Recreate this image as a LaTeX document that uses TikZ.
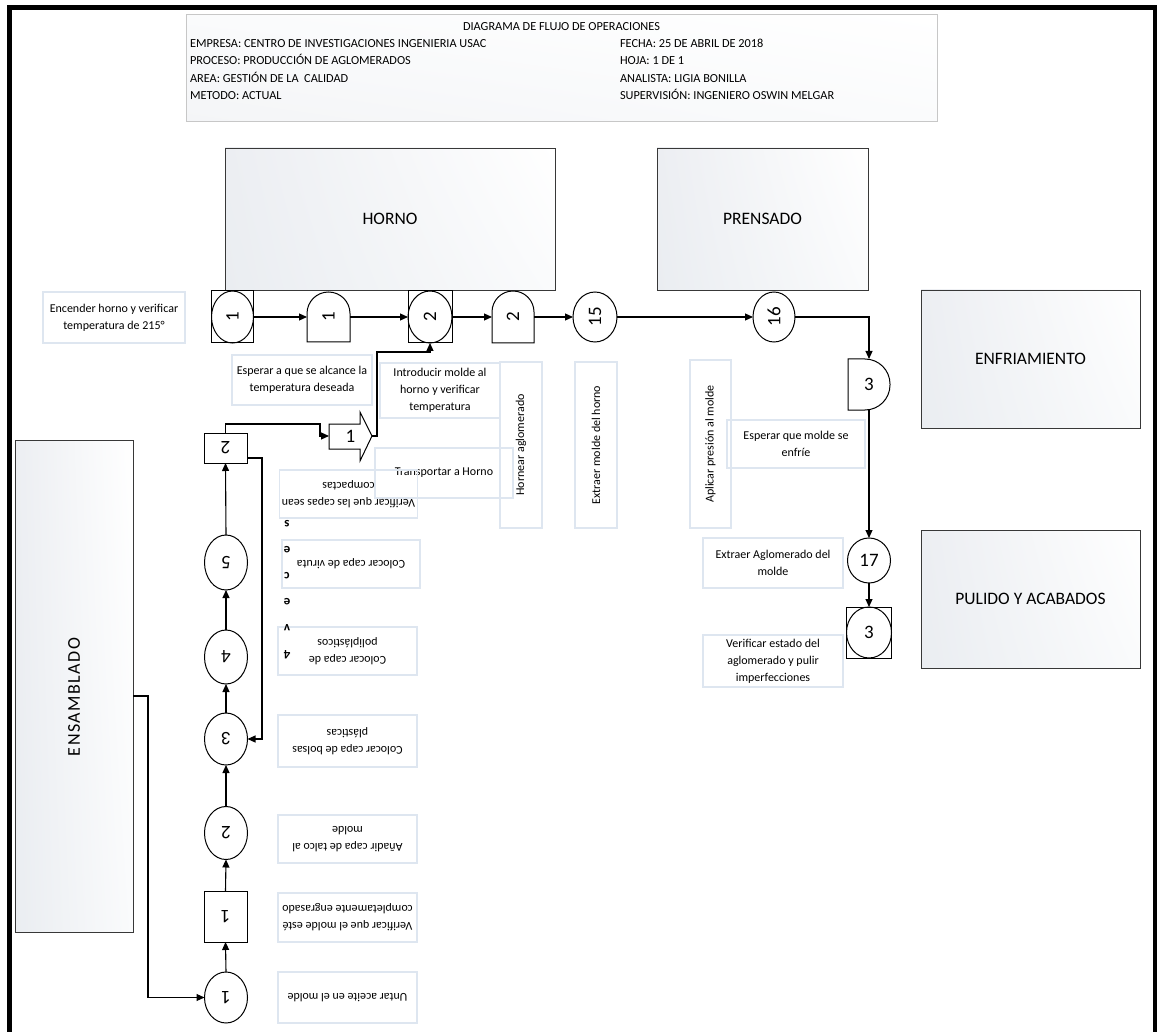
\documentclass[tikz,border=0pt]{standalone}
\usepackage{fontspec}
\usepackage{graphicx}
\setmainfont{Carlito}
\newfontfamily\ensfont[LetterSpace=8]{Carlito}
\usetikzlibrary{shapes.geometric,arrows.meta,calc,shadings}
\definecolor{tbc}{RGB}{222,230,240}
\definecolor{shA}{RGB}{236,238,242}
\definecolor{shB}{RGB}{234,237,241}
\definecolor{shC}{RGB}{250,251,252}
\definecolor{shD}{RGB}{244,245,247}
\newcommand\fsT{\fontsize{12}{17}\selectfont}
\newcommand\fsH{\fontsize{12.3}{17}\selectfont}
\newcommand\fsN{\fontsize{19}{19}\selectfont}
\newcommand\fsP{\fontsize{17.5}{17.5}\selectfont}
\newcommand\fsB{\fontsize{13}{26}\selectfont\bfseries}
\tikzset{
  every node/.style={inner sep=0pt, outer sep=0pt},
  ln/.style={line width=1.1pt, -{Triangle[length=8pt,width=7pt]}},
  ell/.style={ellipse, draw, line width=1pt, font=\fsN},
  sqr/.style={rectangle, draw, line width=1pt, font=\fsN},
  dly/.style={rectangle, draw=none, font=\fsN},
  dshape/.style={line width=1pt},
  proc/.style={rectangle, draw=black!78, line width=0.9pt, upper left=shA, lower left=shB, lower right=shC, upper right=white, font=\fsP},
  hdrbox/.style={rectangle, draw=black!22, line width=1pt, upper left=shC, lower left=shD, lower right=shC, upper right=white},
  hdt/.style={font=\fsH},
  tbox/.style={rectangle, draw=tbc, line width=1.3pt, align=center, font=\fsT},
}
\begin{document}
\begin{tikzpicture}[x=1pt,y=-1pt]
\useasboundingbox (0,0) rectangle (1157,1032);
\draw[line width=5pt] (9.5,1045) -- (9.5,7.5) -- (1155.5,7.5) -- (1155.5,1045);

% header
\node[hdrbox, minimum width=751pt, minimum height=107pt] (hdr) at (561.5,68.5) {};
\node[hdt, anchor=base] (h0) at (561.5,31) {DIAGRAMA DE FLUJO DE OPERACIONES};
\node[hdt, anchor=base west] (h1) at (190,48) {EMPRESA: CENTRO DE INVESTIGACIONES INGENIERIA USAC};
\node[hdt, anchor=base west] (h2) at (190,65) {PROCESO: PRODUCCIÓN DE AGLOMERADOS};
\node[hdt, anchor=base west] (h3) at (190,83) {AREA: GESTIÓN DE LA\ \ CALIDAD};
\node[hdt, anchor=base west] (h4) at (190,100) {METODO: ACTUAL};
\node[hdt, anchor=base west] (h5) at (620,48) {FECHA: 25 DE ABRIL DE 2018};
\node[hdt, anchor=base west] (h6) at (620,65) {HOJA: 1 DE 1};
\node[hdt, anchor=base west] (h7) at (620,83) {ANALISTA: LIGIA BONILLA};
\node[hdt, anchor=base west] (h8) at (620,100) {SUPERVISIÓN: INGENIERO OSWIN MELGAR};

% process boxes
\node[proc, minimum width=330pt, minimum height=142pt] (horno) at (390,219) {HORNO};
\node[proc, minimum width=211pt, minimum height=142pt] (prens) at (762.5,219) {PRENSADO};
\node[proc, minimum width=219pt, minimum height=138pt] (enfr) at (1030.5,359) {ENFRIAMIENTO};
\node[proc, minimum width=219pt, minimum height=138pt] (pul) at (1030.5,599) {PULIDO Y ACABADOS};
\node[proc, minimum width=118pt, minimum height=492pt] (ens) at (74,686) {};
\node[font=\fontsize{18}{18}\ensfont] (ensl) at (74,697) {\rotatebox{90}{ENSAMBLADO}};

% text boxes
\node[tbox, minimum width=142pt, minimum height=51pt] (t1) at (114,317.5) {Encender horno y verificar\\temperatura de 215°};
\node[tbox, minimum width=140pt, minimum height=50pt] (t2) at (302,380) {Esperar a que se alcance la\\temperatura deseada};
\node[tbox, minimum width=120pt, minimum height=55pt] (t3) at (440,390.5) {Introducir molde al\\horno y verificar\\temperatura};
\node[tbox, minimum width=138pt, minimum height=50pt] (t4) at (444,473) {Transportar a Horno};
\node[tbox, minimum width=42pt, minimum height=166pt] (t5) at (521,445) {\rotatebox{90}{Hornear aglomerado}};
\node[tbox, minimum width=42pt, minimum height=166pt] (t6) at (596,445) {\rotatebox{90}{Extraer molde del horno}};
\node[tbox, minimum width=41pt, minimum height=168pt] (t7) at (710.5,444) {\rotatebox{90}{Aplicar presión al molde}};
\node[tbox, minimum width=138pt, minimum height=48pt] (t8) at (796,444) {Esperar que molde se\\enfríe};
\node[tbox, minimum width=140pt, minimum height=50pt] (t9) at (773,563) {Extraer Aglomerado del\\molde};
\node[tbox, minimum width=140pt, minimum height=52pt] (t10) at (773,661) {Verificar estado del\\aglomerado y pulir\\imperfecciones};
\node[tbox, rotate=180, minimum width=138pt, minimum height=48pt] (t11) at (348.5,494) {Verificar que las capas sean\\compactas};
\node[tbox, rotate=180, minimum width=138pt, minimum height=48pt] (t13) at (351,564) {Colocar capa de viruta};
\node[tbox, rotate=180, minimum width=139pt, minimum height=48pt] (t14) at (347.5,651) {Colocar capa de\\poliplásticos};
\node[tbox, rotate=180, minimum width=139pt, minimum height=52pt] (t15) at (347.5,741) {Colocar capa de bolsas\\plásticas};
\node[tbox, rotate=180, minimum width=139pt, minimum height=48pt] (t16) at (347.5,839) {Añadir capa de talco al\\molde};
\node[tbox, rotate=180, minimum width=139pt, minimum height=49pt] (t17) at (347.5,917.5) {Verificar que el molde esté\\completamente engrasado};
\node[tbox, rotate=180, minimum width=139pt, minimum height=51pt] (t18) at (347.5,997.5) {Untar aceite en el molde};
\node[rotate=180, align=center, font=\fsB] (t12) at (287,590) {4\\v\\e\\c\\e\\s};

% top row symbols
\node[sqr, minimum width=42pt, minimum height=52pt] (op1) at (232.5,317) {};
\node[ell, minimum width=42pt, minimum height=52pt] (op1e) at (232.5,317) {\rotatebox{90}{1}};
\node[dly, minimum width=43pt, minimum height=50pt] (d1) at (328.5,317) {\rotatebox{90}{1}};
\draw[dshape] (d1.south west) -- (d1.south east) [rounded corners=21.5pt] -- (d1.north east) -- (d1.north west) [sharp corners] -- cycle;
\node[sqr, minimum width=44pt, minimum height=52pt] (op2) at (430,317) {};
\node[ell, minimum width=44pt, minimum height=52pt] (op2e) at (430,317) {\rotatebox{90}{2}};
\node[dly, minimum width=42pt, minimum height=52pt] (d2) at (513,317) {\rotatebox{90}{2}};
\draw[dshape] (d2.south west) -- (d2.south east) [rounded corners=21pt] -- (d2.north east) -- (d2.north west) [sharp corners] -- cycle;
\node[ell, minimum width=44pt, minimum height=50pt] (c15) at (595,317) {\rotatebox{90}{15}};
\node[ell, minimum width=42pt, minimum height=50pt] (c16) at (774,317) {\rotatebox{90}{16}};
\node[dly, minimum width=42pt, minimum height=51pt] (d3) at (869,384.5) {3};
\draw[dshape] (d3.south west) -- (d3.north west) [rounded corners=25pt] -- (d3.north east) -- (d3.south east) [sharp corners] -- cycle;
\node[ell, minimum width=43pt, minimum height=45pt] (c17) at (869,560.5) {17};
\node[sqr, minimum width=45pt, minimum height=51pt] (op3) at (869,632.5) {};
\node[ell, minimum width=45pt, minimum height=51pt] (op3e) at (869,632.5) {3};

% left column symbols
\node[sqr, minimum width=43pt, minimum height=30pt] (sq2) at (225.5,448) {\rotatebox{180}{2}};
\node[ell, minimum width=43pt, minimum height=55pt] (c5) at (226,562.5) {\rotatebox{180}{5}};
\node[ell, minimum width=43pt, minimum height=54pt] (c4) at (226,657) {\rotatebox{180}{4}};
\node[ell, minimum width=43pt, minimum height=52pt] (c3) at (226,739) {\rotatebox{180}{3}};
\node[ell, minimum width=43pt, minimum height=53pt] (c2) at (226,833) {\rotatebox{180}{2}};
\node[sqr, minimum width=43pt, minimum height=51pt] (sq1) at (225.5,916.5) {\rotatebox{180}{1}};
\node[ell, minimum width=43pt, minimum height=51pt] (c1) at (226,997.5) {\rotatebox{180}{1}};

% transport
\node[dly, minimum width=43pt, minimum height=50pt] (tr) at (350.5,436) {1};
\draw[dshape] ($(tr.west)+(0,-12)$) -- ($(tr.west)+(31,-12)$) -- ($(tr.west)+(31,-24)$) -- (tr.east) -- ($(tr.west)+(31,25)$) -- ($(tr.west)+(31,13)$) -- ($(tr.west)+(0,13)$) -- cycle;

% connectors
\draw[ln] (op1.east) -- (d1.west);
\draw[ln] (d1.east) -- (op2.west);
\draw[ln] (op2.east) -- (d2.west);
\draw[ln] (d2.east) -- (c15.west);
\draw[ln] (c15.east) -- (c16.west);
\draw[ln] (c16.east) -| (d3.north);
\draw[ln] (d3.south) -- (c17.north);
\draw[ln] (c17.south) -- (op3.north);
\draw[ln] ($(ens.east)+(0,10)$) -- ++(15,0) |- (c1.west);
\draw[ln] (c1.north) -- (sq1.south);
\draw[ln] (sq1.north) -- (c2.south);
\draw[ln] (c2.north) -- (c3.south);
\draw[ln] (c3.north) -- (c4.south);
\draw[ln] (c4.north) -- (c5.south);
\draw[ln] (c5.north) -- (sq2.south);
\draw[ln] ($(sq2.east)+(0,10)$) -- ++(15,0) |- (c3.east);
\draw[ln] (sq2.north) -- ++(0,-9) -| ($(tr.west)+(-9,0)$) -- (tr.west);
\draw[ln] (tr.east) -- ++(5,0) |- ($(op2.south)+(0,9)$) -- (op2.south);
\end{tikzpicture}
\end{document}
